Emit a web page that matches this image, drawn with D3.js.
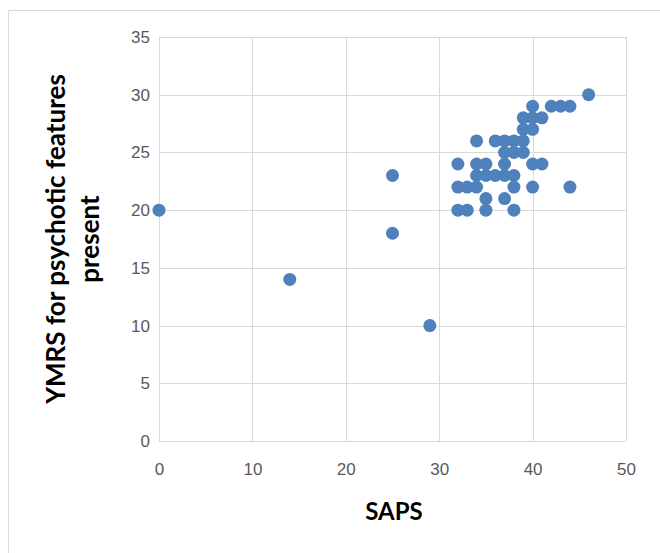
<html>
<head>
<style>
  html, body { margin: 0; padding: 0; background: #ffffff; }
  svg { display: block; font-family: Lato, "Open Sans", sans-serif; }
  .tick text { fill: #595959; font-size: 17px; }
</style>
</head>
<body>
<div id="chart"></div>
<script src="https://d3js.org/d3.v7.min.js"></script>
<script>
// SAPS score and YMRS score for each patient
var saps = [0, 14, 25, 25, 29,
  46, 40, 42, 43, 44, 39, 40, 41, 39, 40,
  34, 36, 37, 38, 39, 37, 38, 39,
  32, 34, 35, 37, 40, 41,
  34, 35, 36, 37, 38,
  32, 33, 34, 38, 40, 44,
  35, 37, 32, 33, 35, 38];
var ymrs = [20, 14, 23, 18, 10,
  30, 29, 29, 29, 29, 28, 28, 28, 27, 27,
  26, 26, 26, 26, 26, 25, 25, 25,
  24, 24, 24, 24, 24, 24,
  23, 23, 23, 23, 23,
  22, 22, 22, 22, 22, 22,
  21, 21, 20, 20, 20, 20];
var xTicks = [0, 10, 20, 30, 40, 50];
var yTicks = [0, 5, 10, 15, 20, 25, 30, 35];

var width = 660, height = 553;
var plot = { left: 159, right: 626, top: 37, bottom: 441 };

var svg = d3.select("#chart").append("svg")
  .attr("width", width)
  .attr("height", height);

// chart area border (only top and left edges are visible)
svg.append("path")
  .attr("d", "M8.5,553 V10.5 H660")
  .attr("fill", "none")
  .attr("stroke", "#d9d9d9");

var x = d3.scaleLinear().domain([0, 50]).range([plot.left, plot.right]);
var y = d3.scaleLinear().domain([0, 35]).range([plot.bottom, plot.top]);

// gridlines
svg.append("g")
  .selectAll("line")
  .data(yTicks)
  .enter().append("line")
  .attr("x1", plot.left)
  .attr("x2", plot.right)
  .attr("y1", d => Math.round(y(d)) + 0.5)
  .attr("y2", d => Math.round(y(d)) + 0.5)
  .attr("stroke", "#d9d9d9");

svg.append("g")
  .selectAll("line")
  .data(xTicks)
  .enter().append("line")
  .attr("x1", d => Math.round(x(d)) + 0.5)
  .attr("x2", d => Math.round(x(d)) + 0.5)
  .attr("y1", plot.top)
  .attr("y2", plot.bottom)
  .attr("stroke", "#d9d9d9");

// axes (labels only, lines come from the grid)
var xAxis = svg.append("g")
  .attr("transform", "translate(0," + plot.bottom + ")")
  .call(d3.axisBottom(x).tickValues(xTicks).tickSize(0).tickPadding(22));
xAxis.select(".domain").remove();

var yAxis = svg.append("g")
  .attr("transform", "translate(" + plot.left + ",0)")
  .call(d3.axisLeft(y).tickValues(yTicks).tickSize(0).tickPadding(9));
yAxis.select(".domain").remove();
svg.selectAll(".tick text").attr("font-family", null);

// points
svg.append("g")
  .selectAll("circle")
  .data(saps)
  .enter().append("circle")
  .attr("cx", d => x(d))
  .attr("cy", (d, i) => y(ymrs[i]))
  .attr("r", 6.5)
  .attr("fill", "#4f81bd");

// axis titles
svg.append("text")
  .attr("x", 394)
  .attr("y", 520)
  .attr("text-anchor", "middle")
  .attr("font-size", 24)
  .attr("font-weight", "bold")
  .attr("fill", "#000")
  .text("SAPS");

var yTitle = svg.append("text")
  .attr("transform", "translate(0,239) rotate(-90)")
  .attr("text-anchor", "middle")
  .attr("font-size", 26)
  .attr("font-weight", "bold")
  .attr("fill", "#000");
yTitle.append("tspan").attr("x", 0).attr("y", 65).text("YMRS for psychotic features");
yTitle.append("tspan").attr("x", 0).attr("y", 99).text("present");
</script>
</body>
</html>
